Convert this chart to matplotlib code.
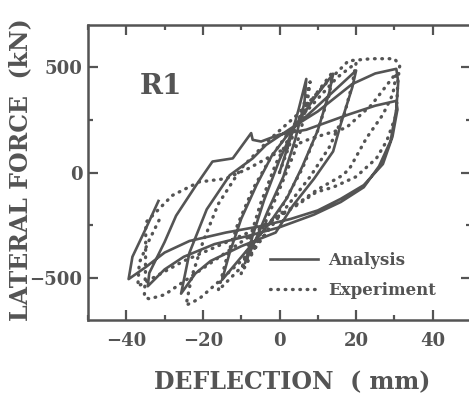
import matplotlib
matplotlib.use("Agg")
import matplotlib.pyplot as plt
from matplotlib.ticker import MultipleLocator

# Analysis (solid) hysteresis path: deflection (mm), force (kN)
analysis_x = [0, 3, 5, 7,
              6.5, 4, 1, -3, -6, -9,
              -7, -4, 0, 4, 9, 14,
              13, 10, 6, 2, -3, -9, -15,
              -13, -10, -6, -2, 3, 9, 15, 20,
              19, 16, 14, 9, 3.5, -1, -10, -18, -22, -25.7,
              -23.5, -19, -13, -7, -3.5, 3, 10, 19, 25, 30.5,
              31, 30.5, 29, 26, 22, 16, 9, 0, -8, -17, -25, -30, -34.4,
              -34, -30, -27, -21.8, -17.5, -12.2, -7.4, -7, -4.8, 0, 7, 18, 25, 30.5,
              30.8, 29.5, 27, 22, 16, 10, 3, -4.4, -14, -23.5, -30, -35, -39.4,
              -38.4, -35, -31.6]
analysis_y = [0, 170, 300, 444,
              330, 150, -20, -180, -310, -430,
              -300, -130, 60, 220, 350, 468,
              380, 200, 30, -120, -250, -380, -510,
              -380, -220, -60, 80, 200, 300, 400, 484,
              404, 230, 100, -30, -157, -285, -350, -420, -480, -575,
              -380, -175, -13, 67, 131, 210, 290, 420, 470, 492,
              430, 300, 150, 30, -70, -140, -200, -260, -300, -340, -400, -460, -540,
              -477, -330, -205, -61, 52, 67, 187, 155, 147, 180, 203, 275, 317, 340,
              300, 170, 40, -60, -125, -180, -220, -253, -285, -325, -380, -450, -506,
              -400, -270, -135]

# Experiment (dotted) hysteresis path
experiment_x = [0, 3, 6, 8,
                7, 4, 0, -4, -7, -10,
                -8, -5, -1, 4, 9, 14,
                13, 10, 6, 1, -4, -10, -16,
                -14, -11, -7, -2, 4, 10, 15, 20,
                19, 17, 13, 8, 2, -4, -10, -16, -21, -24.4,
                -23, -20, -16, -10, -3, 5, 12, 18, 24, 30, 31.4,
                30.9, 30.5, 28, 25.3, 20, 14, 9.6, 4.4, -2, -10, -18, -26, -30, -34, -35.3,
                -35, -34.9, -28, -21, -14, -8, 0, 8, 17.4, 24, 29.6, 30.5,
                29.6, 27, 22.7, 18.3, 16.5, 10, 3, -5, -15, -25, -33, -37,
                -36.6, -34, -31]
experiment_y = [0, 150, 300, 430,
                300, 100, -80, -250, -380, -480,
                -330, -150, 40, 220, 360, 480,
                370, 200, 20, -150, -300, -450, -560,
                -420, -250, -80, 80, 230, 350, 450, 520,
                420, 280, 120, -20, -160, -300, -420, -520, -600, -630,
                -500, -330, -150, 20, 150, 280, 420, 530, 540, 540, 508,
                437, 275, 150, 67, -20, -70, -93, -157, -230, -330, -430, -530, -580, -600, -590,
                -480, -237, -109, -45, -29, 20, 100, 160, 212, 320, 452, 470,
                372, 275, 163, 19, -13, -80, -170, -260, -340, -420, -500, -540,
                -428, -320, -210]

x_ticks = [-40, -20, 0, 20, 40]
y_ticks = [-500, 0, 500]
specimen = "R1"

ink = "#545454"
plt.rcParams['font.family'] = ['DejaVu Serif']
plt.rcParams['font.weight'] = 'bold'
plt.rcParams['axes.labelweight'] = 'bold'

fig = plt.figure(figsize=(4.69, 3.98), dpi=100)
ax = fig.add_axes([88 / 469, 78 / 398, 383 / 469, 295 / 398])

ax.plot(analysis_x, analysis_y, color=ink, lw=1.9, solid_joinstyle='round', label="Analysis")
ax.plot(experiment_x, experiment_y, color=ink, lw=2.4, linestyle=(0, (0.2, 2.0)),
        dash_capstyle='round', label="Experiment")

ax.set_xlim(-50, 50)
ax.set_ylim(-700, 700)
ax.set_xticks(x_ticks)
ax.set_yticks(y_ticks)
ax.xaxis.set_minor_locator(MultipleLocator(10))
ax.yaxis.set_minor_locator(MultipleLocator(250))
ax.tick_params(which='both', direction='in', top=True, right=True, colors=ink, width=1.6)
ax.tick_params(which='major', length=7)
ax.tick_params(which='minor', length=3.5)
ax.tick_params(axis='x', pad=9, labelsize=13, labelcolor=ink)
ax.tick_params(axis='y', pad=4, labelsize=13, labelcolor=ink)
for s in ax.spines.values():
    s.set_linewidth(1.8)
    s.set_color(ink)

ax.set_xlabel("DEFLECTION  ( mm)", fontsize=17, color=ink, fontweight='bold')
ax.set_ylabel("LATERAL FORCE  (kN)", fontsize=17, color=ink, fontweight='bold')
ax.xaxis.set_label_coords(0.533, -0.17)
ax.yaxis.set_label_coords(-0.145, 0.51)

ax.text(-31, 410, specimen, fontsize=20, color=ink, ha='center', va='center')

ax.legend(loc='upper left', bbox_to_anchor=(0.475, 0.23), frameon=False,
          fontsize=12, handlelength=2.9, handletextpad=0.6, labelspacing=0.75,
          borderpad=0, borderaxespad=0, labelcolor=ink)

fig.savefig("out.png", dpi=100)
